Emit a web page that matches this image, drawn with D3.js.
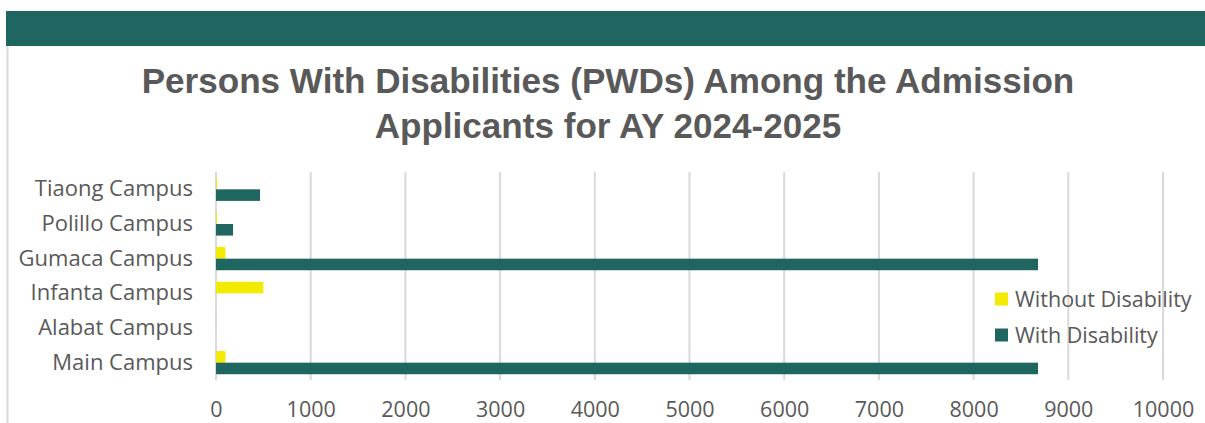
<!DOCTYPE html>
<html>
<head>
<meta charset="utf-8">
<script src="https://cdn.jsdelivr.net/npm/d3@7"></script>
<style>
html,body{margin:0;padding:0;background:#fff;}
svg{display:block;}
</style>
</head>
<body>
<svg id="chart" width="1205" height="423"></svg>
<script>
const categories = ["Main Campus", "Alabat Campus", "Infanta Campus", "Gumaca Campus", "Polillo Campus", "Tiaong Campus"];
const seriesNames = ["Without Disability", "With Disability"];
const withoutDisability = [100, 0, 500, 100, 10, 10];
const withDisability = [8680, 0, 0, 8680, 180, 465];
const xTicks = [0, 1000, 2000, 3000, 4000, 5000, 6000, 7000, 8000, 9000, 10000];
const titleLines = ["Persons With Disabilities (PWDs) Among the Admission", "Applicants for AY 2024-2025"];
const colors = ["#F2EA00", "#1F6660"];

const svg = d3.select("#chart");
const W = 1205, H = 423;
const textColor = "#595959";
const font = "'Open Sans', 'Liberation Sans', sans-serif";

// header band
svg.append("rect").attr("x", 6).attr("y", 11).attr("width", W - 6).attr("height", 35).attr("fill", "#1F6660");
// left border
svg.append("line").attr("x1", 7.5).attr("x2", 7.5).attr("y1", 46).attr("y2", H).attr("stroke", "#d9d9d9").attr("stroke-width", 2);

// title
const title = svg.append("g");
const tEls = titleLines.map((t, i) => title.append("text")
    .attr("x", 608).attr("y", 93 + i * 45)
    .attr("text-anchor", "middle")
    .attr("font-family", "'Liberation Sans', Arial, sans-serif")
    .attr("font-weight", "bold")
    .attr("font-size", 34)
    .attr("fill", textColor)
    .text(t));
// fit first line width to ~933px
const w0 = tEls[0].node().getComputedTextLength();
const fs = 34 * 933 / w0;
tEls.forEach(e => e.attr("font-size", fs));

const plot = {left: 216, right: 1163, top: 172, bottom: 380};
const x = d3.scaleLinear().domain([0, 10000]).range([plot.left, plot.right]);
const y = d3.scaleBand().domain(categories.slice().reverse()).range([plot.top, plot.bottom]).paddingInner(0).paddingOuter(0);
const inner = d3.scaleBand().domain(seriesNames).range([0, y.bandwidth()]).paddingInner(0).paddingOuter(0.5);

// gridlines
svg.append("g").selectAll("line").data(xTicks).join("line")
  .attr("x1", d => x(d)).attr("x2", d => x(d))
  .attr("y1", plot.top).attr("y2", plot.bottom)
  .attr("stroke", "#d9d9d9").attr("stroke-width", 2);

// x axis labels
const xAxis = d3.axisBottom(x).tickValues(xTicks).tickSize(0).tickPadding(0).tickFormat(d3.format("d"));
const xg = svg.append("g").attr("transform", `translate(0,${plot.bottom + 22})`).call(xAxis);
xg.select(".domain").remove();
xg.selectAll("text").attr("font-family", font).attr("font-size", 21.5).attr("fill", textColor);

// y axis labels
const yAxis = d3.axisLeft(y).tickSize(0).tickPadding(0);
const yg = svg.append("g").attr("transform", `translate(${plot.left - 23},0)`).call(yAxis);
yg.select(".domain").remove();
yg.selectAll("text").attr("font-family", font).attr("font-size", 22).attr("fill", textColor);

// bars
const data = [];
categories.forEach((c, i) => {
  data.push({cat: c, s: seriesNames[0], v: withoutDisability[i]});
  data.push({cat: c, s: seriesNames[1], v: withDisability[i]});
});
svg.append("g").selectAll("rect").data(data.filter(d => d.v > 0)).join("rect")
  .attr("x", x(0))
  .attr("y", d => y(d.cat) + inner(d.s))
  .attr("width", d => x(d.v) - x(0))
  .attr("height", inner.bandwidth())
  .attr("fill", d => colors[seriesNames.indexOf(d.s)]);

// legend
const lg = svg.append("g").attr("transform", "translate(995,0)");
seriesNames.forEach((s, i) => {
  const cy = 299 + i * 36;
  lg.append("rect").attr("x", 0).attr("y", cy - 6.5).attr("width", 13).attr("height", 13).attr("fill", colors[i]);
  lg.append("text").attr("x", 20).attr("y", cy).attr("dy", "0.35em")
    .attr("font-family", font).attr("font-size", 21.5).attr("fill", textColor).text(s);
});
</script>
</body>
</html>
